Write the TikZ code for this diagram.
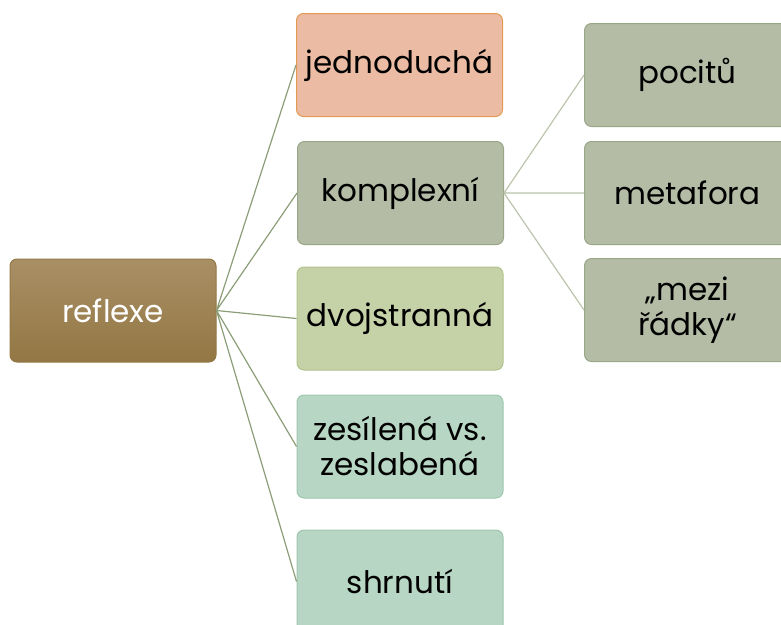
\documentclass[tikz,border=0pt]{standalone}
\usepackage{fontspec}
\setmainfont{Poppins}
\usepackage{xcolor}
\definecolor{rootTop}{HTML}{A98F65}
\definecolor{rootBot}{HTML}{937744}
\definecolor{salmonFill}{HTML}{EBBBA3}
\definecolor{salmonLine}{HTML}{E39A55}
\definecolor{sageFill}{HTML}{B4BCA6}
\definecolor{sageLine}{HTML}{9AA688}
\definecolor{limeFill}{HTML}{C5D1A7}
\definecolor{limeLine}{HTML}{B2C38C}
\definecolor{mintFill}{HTML}{B7D6C3}
\definecolor{mintLine}{HTML}{9EC7AE}
\definecolor{linkDark}{HTML}{8C9E78}
\definecolor{linkLight}{HTML}{BBC4AC}

\begin{document}
\begin{tikzpicture}[x=1pt,y=-1pt]
\tikzstyle{every node}=[rectangle,rounded corners=7pt,minimum width=206pt,minimum height=103pt,align=center,line width=1pt,inner sep=2pt,font=\fontsize{31}{35}\selectfont];
\clip (0,0) rectangle (781,624);
\node[top color=rootTop,bottom color=rootBot,draw=rootBot,text=white](refl) at (113,310.5) {reflexe};
\node[fill=salmonFill,draw=salmonLine](jedn) at (399.5,65) {jednoduchá};
\node[fill=sageFill,draw=sageLine](kompl) at (400.5,193) {komplexní};
\node[fill=limeFill,draw=limeLine](dvoj) at (400,318.5) {dvojstranná};
\node[fill=mintFill,draw=mintLine](zesil) at (400,446.5) {zesílená vs.\\zeslabená};
\node[fill=mintFill,draw=mintLine](shrn) at (400,581.5) {shrnutí};
\node[fill=sageFill,draw=sageLine](poc) at (687.5,75) {pocitů};
\node[fill=sageFill,draw=sageLine](meta) at (687.5,193) {metafora};
\node[fill=sageFill,draw=sageLine](mezi) at (687.5,310) {„mezi\\řádky“};
\draw[linkDark,line width=1.2pt](refl.east)--(jedn.west)(refl.east)--(kompl.west)(refl.east)--(dvoj.west)(refl.east)--(zesil.west)(refl.east)--(shrn.west);
\draw[linkLight,line width=1.2pt](kompl.east)--(poc.west)(kompl.east)--(meta.west)(kompl.east)--(mezi.west);
\end{tikzpicture}
\end{document}
